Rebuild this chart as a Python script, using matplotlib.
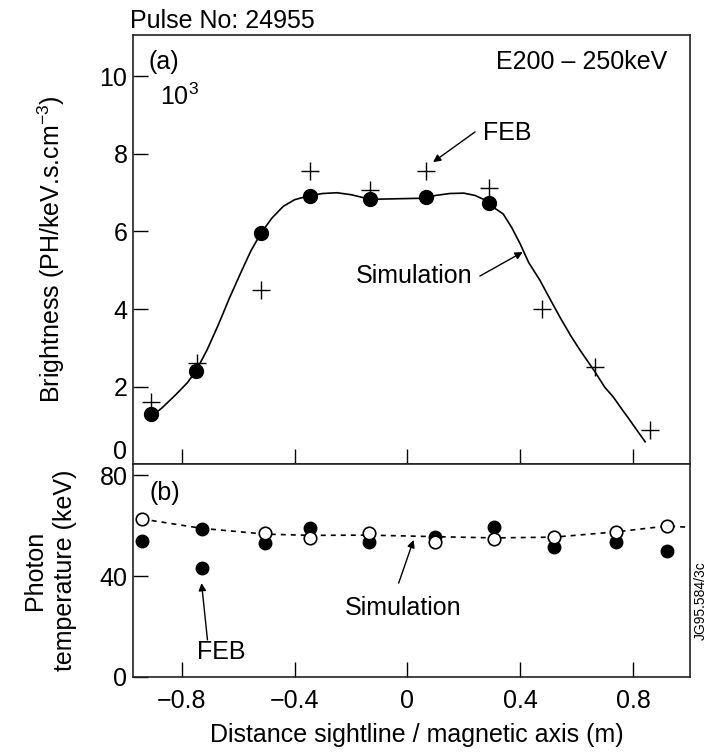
import numpy as np
import matplotlib.pyplot as plt

plt.rcParams['font.family'] = ['Liberation Sans', 'DejaVu Sans']
plt.rcParams['mathtext.fontset'] = 'custom'
plt.rcParams['mathtext.rm'] = 'Liberation Sans'
plt.rcParams['mathtext.it'] = 'Liberation Sans'

# panel (a): brightness
a_dots_x = [-0.91, -0.75, -0.52, -0.345, -0.133, 0.066, 0.289]
a_dots_y = [1.3, 2.4, 5.95, 6.91, 6.83, 6.88, 6.73]
a_feb_x = [-0.91, -0.745, -0.52, -0.345, -0.133, 0.066, 0.289, 0.476, 0.665, 0.86]
a_feb_y = [1.6, 2.6, 4.5, 7.56, 7.06, 7.55, 7.11, 4.01, 2.51, 0.88]
a_sim_x = [-0.92, -0.87, -0.82, -0.78, -0.75, -0.71, -0.67, -0.63, -0.59, -0.555,
           -0.52, -0.48, -0.44, -0.40, -0.345, -0.30, -0.25, -0.20, -0.16, -0.133,
           0.066, 0.10, 0.15, 0.20, 0.24, 0.27, 0.289, 0.31, 0.34, 0.37,
           0.40, 0.43, 0.47, 0.51, 0.54, 0.58, 0.612, 0.665, 0.70, 0.73,
           0.76, 0.789, 0.815, 0.843]
a_sim_y = [1.15, 1.45, 1.8, 2.1, 2.4, 2.95, 3.6, 4.3, 4.95, 5.5,
           5.95, 6.35, 6.65, 6.82, 6.93, 6.98, 7.0, 6.95, 6.88, 6.83,
           6.86, 6.93, 6.98, 6.99, 6.93, 6.83, 6.73, 6.6, 6.45, 6.1,
           5.68, 5.2, 4.74, 4.2, 3.8, 3.3, 2.94, 2.38, 1.98, 1.73,
           1.42, 1.13, 0.86, 0.575]

# panel (b): photon temperature
b_feb_x = [-0.942, -0.73, -0.73, -0.505, -0.346, -0.135, 0.097, 0.307, 0.52, 0.741, 0.919]
b_feb_y = [54.0, 58.5, 43.0, 52.9, 58.9, 53.6, 55.6, 59.5, 51.4, 53.6, 50.0]
b_open_x = [-0.942, -0.505, -0.346, -0.135, 0.097, 0.307, 0.52, 0.741, 0.919]
b_open_y = [62.6, 56.9, 54.9, 56.9, 53.6, 54.5, 55.6, 57.5, 59.8]
b_sim_x = [-0.942, -0.73, -0.505, -0.346, -0.135, 0.097, 0.307, 0.52, 0.741, 0.919, 1.0]
b_sim_y = [62.6, 58.9, 56.6, 56.1, 56.2, 55.6, 55.1, 55.4, 57.5, 59.8, 59.3]

x_ticks = [-0.8, -0.4, 0, 0.4, 0.8]
x_labels = ['\u22120.8', '\u22120.4', '0', '0.4', '0.8']

FS = 18
arrow = dict(arrowstyle='-|>', color='black', lw=1.0, mutation_scale=11,
             shrinkA=0, shrinkB=0)

fig = plt.figure(figsize=(7.06, 7.56), dpi=100)
ax1 = fig.add_axes([0.1884, 0.3862, 0.7889, 0.5675])
ax2 = fig.add_axes([0.1884, 0.1045, 0.7889, 0.2817])

for ax in (ax1, ax2):
    ax.set_xlim(-0.973, 1.002)
    ax.set_xticks(x_ticks)
    ax.tick_params(direction='in', length=11, width=1.0, labelsize=FS, pad=4,
                   top=False, right=False)
    ax.tick_params(axis='x', pad=9)
    for s in ax.spines.values():
        s.set_linewidth(1.2)
        s.set_color('#222222')

ax1.set_xticklabels([])
ax2.set_xticklabels(x_labels)

# upper panel
ax1.set_ylim(0, 11.07)
ax1.set_yticks([0, 2, 4, 6, 8, 10])
ax1.yaxis.get_major_ticks()[0].label1.set_va('bottom')
ax1.plot(a_sim_x, a_sim_y, color='black', lw=1.2)
ax1.plot(a_dots_x, a_dots_y, 'o', color='black', ms=10)
ax1.plot(a_feb_x, a_feb_y, '+', color='black', ms=13, mew=1.0)
ax1.set_ylabel('Brightness (PH/keV.s.cm$^{-3}$)', fontsize=FS)
ax1.yaxis.set_label_coords(-0.118, 0.5)
ax1.text(0.027, 0.937, '(a)', transform=ax1.transAxes, fontsize=FS, va='center')
ax1.text(0.048, 0.855, '10$^3$', transform=ax1.transAxes, fontsize=FS, va='center')
ax1.text(0.960, 0.937, 'E200 \u2013 250keV', transform=ax1.transAxes, fontsize=FS,
         ha='right', va='center')
ax1.text(0.268, 8.54, 'FEB', fontsize=FS, ha='left', va='center')
ax1.annotate('', xy=(0.091, 7.79), xytext=(0.240, 8.57), arrowprops=arrow)
ax1.text(0.229, 4.85, 'Simulation', fontsize=FS, ha='right', va='center')
ax1.annotate('', xy=(0.409, 5.47), xytext=(0.257, 4.85), arrowprops=arrow)

# lower panel
ax2.set_ylim(0, 84.36)
ax2.set_yticks([0, 40, 80])
ax2.plot(b_sim_x, b_sim_y, color='black', lw=1.2, ls=(0, (3, 3)))
ax2.plot(b_feb_x, b_feb_y, 'o', color='black', ms=9)
ax2.plot(b_open_x, b_open_y, 'o', mfc='white', mec='black', mew=1.2, ms=9)
ax2.set_ylabel('Photon\ntemperature (keV)', fontsize=FS, linespacing=1.35)
ax2.yaxis.set_label_coords(-0.1, 0.5)
ax2.set_xlabel('Distance sightline / magnetic axis (m)', fontsize=FS)
ax2.xaxis.set_label_coords(0.509, -0.215)
ax2.text(0.029, 0.864, '(b)', transform=ax2.transAxes, fontsize=FS, va='center')
ax2.text(-0.014, 27.3, 'Simulation', fontsize=FS, ha='center', va='center')
ax2.annotate('', xy=(0.022, 54.3), xytext=(-0.031, 37.2), arrowprops=arrow)
ax2.text(-0.66, 9.9, 'FEB', fontsize=FS, ha='center', va='center')
ax2.annotate('', xy=(-0.73, 37.2), xytext=(-0.709, 14.7), arrowprops=arrow)

fig.text(0.184, 0.972, 'Pulse No: 24955', fontsize=FS, va='center', ha='left')
fig.text(0.992, 0.206, 'JG95.584/3c', fontsize=10, rotation=90, va='center', ha='center')

fig.savefig('out.png', dpi=100)
